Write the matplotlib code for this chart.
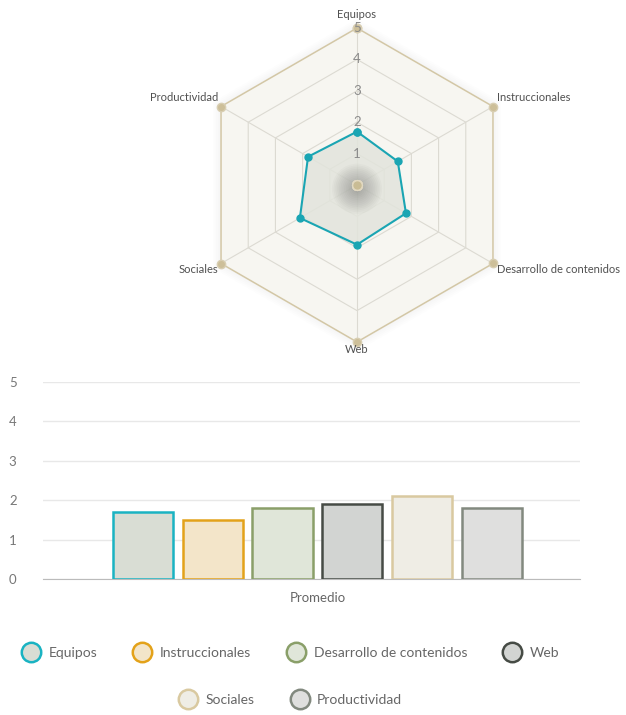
import matplotlib.pyplot as plt
import numpy as np
from matplotlib.lines import Line2D

plt.rcParams['font.family'] = ['Lato', 'DejaVu Sans']

# data
categories = ['Equipos', 'Instruccionales', 'Desarrollo de contenidos', 'Web', 'Sociales', 'Productividad']
averages = [1.7, 1.5, 1.8, 1.9, 2.1, 1.8]
radar_max = [5, 5, 5, 5, 5, 5]
radar_min = [0, 0, 0, 0, 0, 0]
radar_ticks = [1, 2, 3, 4, 5]
bar_ticks = [0, 1, 2, 3, 4, 5]
bar_category = 'Promedio'

edge_colors = ['#1ab3c2', '#e3a21a', '#8a9f69', '#464b45', '#d9c9a0', '#82897f']
fill_colors = ['#d9ddd4', '#f3e5c9', '#e0e6d9', '#d2d4d2', '#efede5', '#dfdfde']

W, H = 626, 715
fig = plt.figure(figsize=(W / 100, H / 100), dpi=100)


def box(left, top, width, height):
    """Pixel box (top-left origin) -> figure fraction rect."""
    return [left / W, 1 - (top + height) / H, width / W, height / H]


# ---------------- radar ----------------
half = 180
lim = half / 157 * max(radar_max)
ax = fig.add_axes(box(357 - half, 185 - half, 2 * half, 2 * half))
ax.set_xlim(-lim, lim)
ax.set_ylim(-lim, lim)
ax.set_aspect('equal')
ax.axis('off')

n = len(categories)
angles = np.pi / 2 - np.arange(n) * 2 * np.pi / n


def xy(vals):
    v = np.asarray(vals, float)
    x = v * np.cos(angles)
    y = v * np.sin(angles)
    return np.append(x, x[0]), np.append(y, y[0])


# soft shadow + background of the outer frame
for k in range(5):
    ax.fill(*xy(np.asarray(radar_max) + 0.06 * (k + 1)), color='k', alpha=0.008, lw=0, zorder=0.5)
ax.fill(*xy(radar_max), color='#f7f6f1', lw=0, zorder=1)

for t in radar_ticks[:-1]:
    ax.plot(*xy([t] * n), color='#dcdad2', lw=0.8, zorder=2)
mx, my = xy(radar_max)
for i in range(n):
    ax.plot([0, mx[i]], [0, my[i]], color='#dcdad2', lw=0.8, zorder=2)

ax.plot(mx, my, color='#d3c7a6', lw=1.1, marker='o', ms=6, mfc='#cdbf99', mec='#d8ceb2', zorder=3)

# average series
ax.fill(*xy(averages), color='#e2e4dc', alpha=0.85, lw=0, zorder=4)
# blurred shadow of the centre point
for r in np.linspace(0.08, 0.8, 14):
    ax.add_patch(plt.Circle((0, -0.12), r, color='k', alpha=0.018, lw=0, zorder=4.5))
ax.plot(*xy(averages), color='#1aa5b3', lw=1.5, marker='o', ms=5, mfc='#1aa5b3', mec='#1aa5b3', zorder=5)

# min series (centre)
cx, cy = xy(radar_min)
ax.plot(cx, cy, ls='none', marker='o', ms=7, mfc='#c9bc95', mec='#e2d9c2', zorder=6)

for t in radar_ticks:
    ax.text(0, t, str(t), ha='center', va='center', color='#8a8a8a', fontsize=9.5, zorder=7)

label_offsets = [(0, 13, 'center'), (4, 9, 'left'), (4, -6, 'left'),
                 (0, -8, 'center'), (-3, -6, 'right'), (-3, 9, 'right')]
for i, cat in enumerate(categories):
    dx, dy, ha = label_offsets[i]
    ax.annotate(cat, xy=(mx[i], my[i]), xytext=(dx, dy), textcoords='offset pixels',
                ha=ha, va='center', fontsize=8, color='#505050', annotation_clip=False)

# ---------------- bars ----------------
bx = fig.add_axes(box(43, 382, 537, 197))
bx.set_xlim(-0.5, 0.5)
bx.set_ylim(min(bar_ticks), max(bar_ticks))
offsets = (np.arange(n) - (n - 1) / 2) * 0.13 + 0.011
for i in range(n):
    bx.bar(offsets[i], averages[i], width=0.112, color=fill_colors[i],
           edgecolor=edge_colors[i], lw=1.8, zorder=3)

bx.set_yticks(bar_ticks)
bx.set_xticks([0.011])
bx.set_xticklabels([bar_category])
bx.grid(axis='y', color='#e8e8e8', lw=1)
bx.set_axisbelow(True)
for s in ['top', 'right', 'left']:
    bx.spines[s].set_visible(False)
bx.spines['bottom'].set_color('#bbbbbb')
bx.tick_params(axis='y', length=0, pad=19, labelcolor='#777777', labelsize=9.5)
bx.tick_params(axis='x', length=0, pad=9, labelcolor='#666666', labelsize=9.5)

# ---------------- legend ----------------
handles = [Line2D([], [], ls='none', marker='o', ms=14, mfc=fill_colors[i],
                  mec=edge_colors[i], mew=1.8) for i in range(n)]
common = dict(frameon=False, fontsize=10, labelcolor='#666666', handlelength=1.5,
              handletextpad=0.5, columnspacing=2.5, borderpad=0, borderaxespad=0)
fig.legend(handles[:4], categories[:4], ncol=4, loc='center',
           bbox_to_anchor=(290 / W, 1 - 653 / H), **common)
fig.legend(handles[4:], categories[4:], ncol=2, loc='center',
           bbox_to_anchor=(290 / W, 1 - 700 / H), **common)

fig.savefig('out.png', dpi=100)
